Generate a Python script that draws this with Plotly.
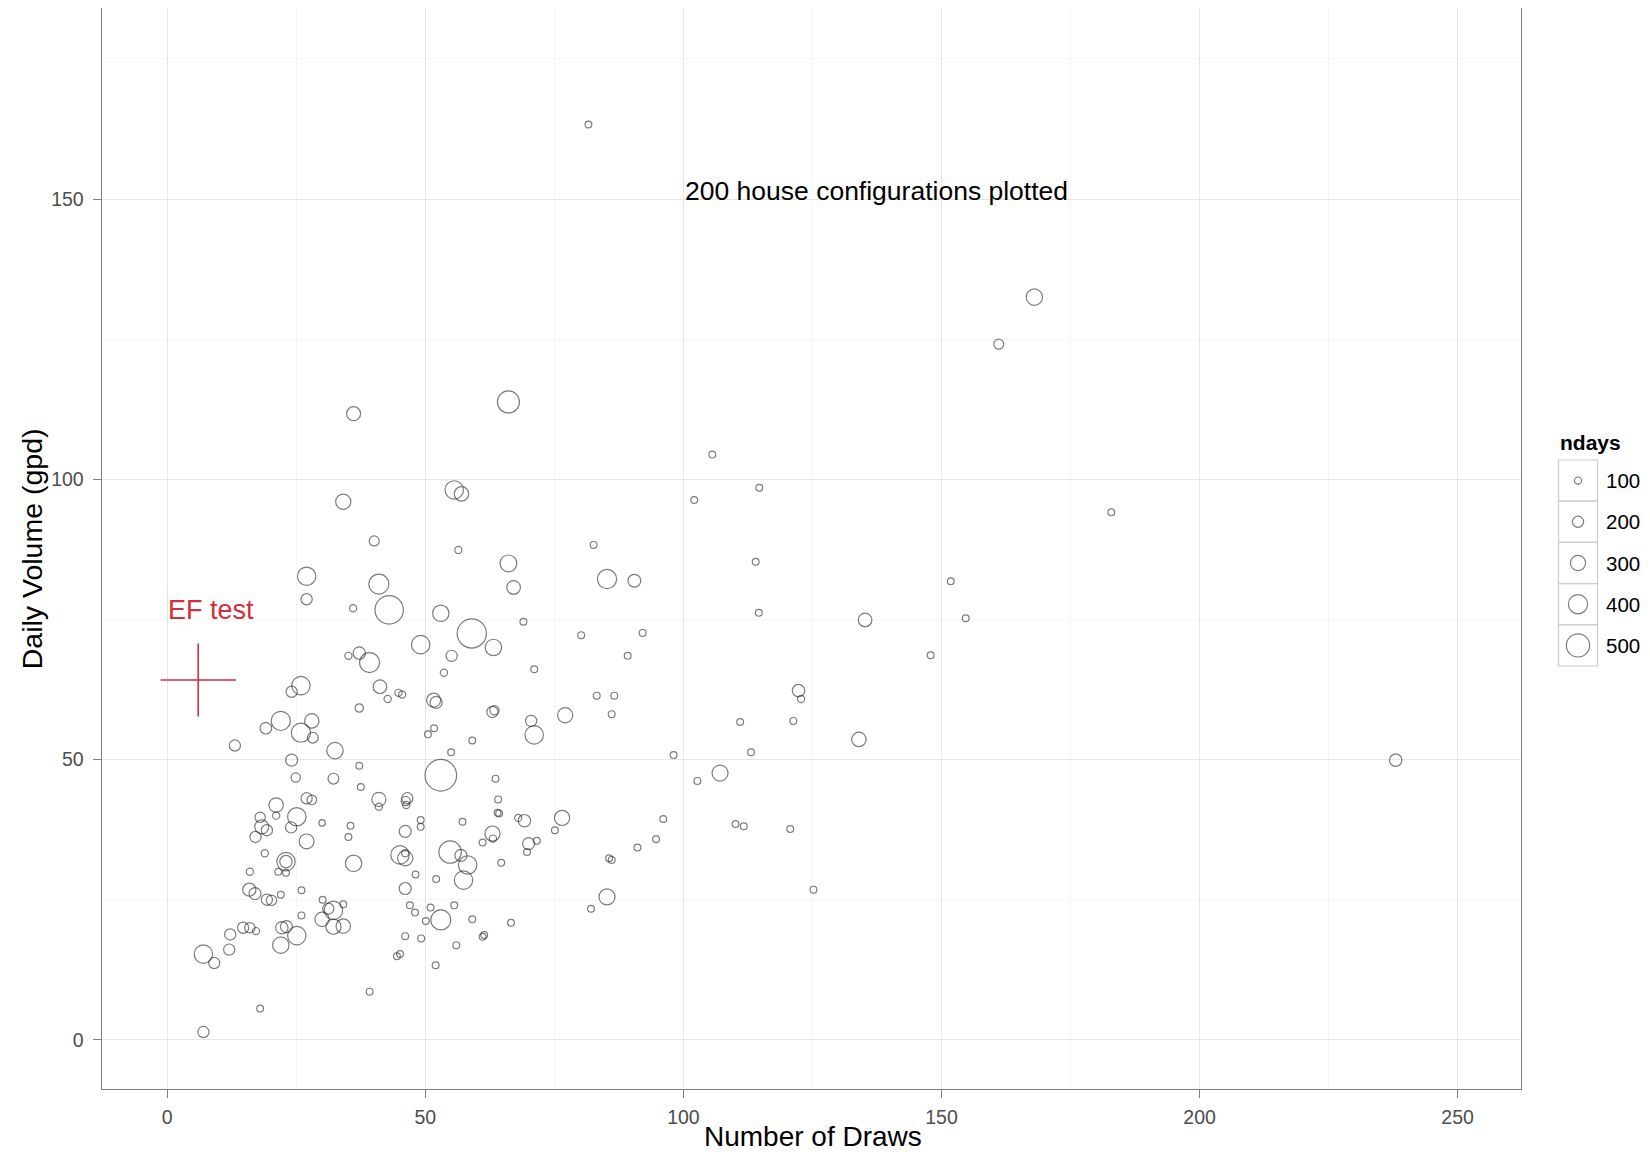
import plotly.graph_objects as go

# ---------------- data ----------------
draws = [
    36.1, 34.1, 40.1, 27.0, 27.0, 36.0, 41.0, 43.0, 53.0, 55.6, 57.0, 56.4, 49.1, 55.1, 53.6, 35.1, 37.2, 39.2,
    66.1, 105.6, 102.1, 114.7, 114.0, 66.1, 67.1, 82.6, 85.2, 90.5, 69.0, 59.0, 63.2, 80.2, 92.1, 114.6,
    25.9, 24.1, 41.2, 42.7, 44.8, 45.5, 51.6, 52.1, 37.2, 19.1, 22.0, 28.0, 25.9, 28.2, 13.1, 32.5, 50.5, 51.7,
    55.0, 24.1, 24.9, 32.2, 37.2, 37.5, 53.0, 21.1, 21.1, 27.0, 28.0, 30.0, 25.1, 24.0, 18.0, 18.3, 19.3, 17.1,
    27.0, 35.5, 35.1, 41.0, 41.0, 46.5, 46.2, 46.3, 49.1, 49.1, 46.1, 18.9, 23.0, 23.0, 21.5, 23.0, 36.1, 16.0,
    45.1, 46.1, 46.1, 48.1, 52.1, 54.8, 46.1, 15.9, 17.0, 19.3, 20.2, 22.0, 26.0, 30.1, 32.2, 31.2, 34.1, 30.0,
    32.2, 34.1, 26.0, 47.0, 48.0, 51.0, 50.1, 53.0, 55.6, 56.0, 46.1, 49.2, 44.5, 45.1, 52.0, 14.7, 16.0, 17.2,
    22.2, 23.1, 25.1, 22.0, 12.2, 12.0, 7.0, 9.1, 39.2, 18.0, 7.0,
    89.2, 71.1, 83.2, 86.6, 86.1, 63.0, 63.4, 70.5, 71.1, 77.1, 59.1, 98.1, 102.7, 107.1, 111.0, 113.1, 110.1,
    111.7, 63.6, 64.1, 64.3, 64.0, 57.2, 68.0, 69.2, 76.5, 75.1, 63.0, 63.1, 61.1, 70.0, 71.6, 69.7, 58.2, 57.4,
    64.7, 96.1, 94.7, 91.1, 85.6, 86.1, 85.2, 82.1, 59.1, 66.6, 61.1, 61.4, 56.9,
    81.6, 168.0, 161.1, 182.9, 151.8, 135.2, 154.7, 147.9, 122.3, 122.8, 121.3, 134.0, 120.7, 125.2, 238.0,
]
volume = [
    111.7, 96.0, 89.0, 82.7, 78.6, 77.0, 81.3, 76.7, 76.1, 98.1, 97.4, 87.4, 70.5, 68.5, 65.5, 68.5, 69.0, 67.3,
    113.8, 104.4, 96.3, 98.5, 85.3, 85.0, 80.7, 88.3, 82.2, 81.9, 74.6, 72.5, 70.0, 72.2, 72.6, 76.2,
    63.2, 62.1, 63.0, 60.8, 61.9, 61.6, 60.6, 60.2, 59.2, 55.6, 56.9, 56.9, 54.8, 53.9, 52.5, 51.6, 54.5, 55.6,
    51.3, 49.9, 46.8, 46.6, 48.9, 45.1, 47.2, 41.9, 40.0, 43.1, 42.8, 38.7, 39.8, 37.9, 39.7, 38.0, 37.4, 36.2,
    35.4, 38.2, 36.2, 42.9, 41.6, 43.1, 42.6, 41.9, 39.2, 38.0, 37.2, 33.3, 31.8, 31.8, 30.0, 29.8, 31.5, 30.0,
    33.0, 32.4, 33.3, 29.5, 28.7, 33.5, 27.0, 26.8, 26.1, 25.0, 24.9, 25.9, 26.7, 25.0, 23.1, 23.4, 24.2, 21.5,
    20.2, 20.3, 22.2, 24.0, 22.7, 23.6, 21.2, 21.4, 24.0, 16.9, 18.5, 18.1, 14.9, 15.3, 13.3, 20.0, 20.0, 19.4,
    20.0, 20.2, 18.6, 16.9, 18.8, 16.1, 15.3, 13.7, 8.6, 5.6, 1.4,
    68.5, 66.1, 61.4, 61.4, 58.1, 58.5, 58.8, 56.9, 54.4, 57.9, 53.4, 50.8, 46.2, 47.6, 56.7, 51.3, 38.5,
    38.1, 46.6, 42.9, 40.4, 40.5, 38.9, 39.6, 39.1, 39.6, 37.4, 36.8, 35.9, 35.2, 35.0, 35.5, 33.5, 31.2, 28.5,
    31.6, 39.4, 35.8, 34.3, 32.4, 32.1, 25.5, 23.4, 21.5, 20.9, 18.4, 18.7, 32.9,
    163.3, 132.5, 124.1, 94.1, 81.8, 74.9, 75.2, 68.6, 62.3, 60.8, 56.9, 53.6, 37.6, 26.8, 49.9,
]
ndays = [
    270, 300, 170, 380, 200, 100, 420, 630, 330, 380, 280, 100, 380, 200, 100, 100, 230, 420,
    470, 90, 90, 90, 90, 340, 260, 90, 400, 240, 90, 650, 330, 90, 90, 90,
    380, 200, 260, 100, 100, 100, 270, 220, 130, 210, 400, 280, 400, 190, 200, 330, 90, 90,
    90, 220, 150, 190, 90, 90, 710, 280, 100, 200, 160, 80, 380, 200, 180, 270, 200, 200,
    290, 90, 90, 270, 100, 200, 150, 100, 90, 90, 220, 100, 380, 230, 90, 90, 330, 100,
    380, 300, 100, 90, 90, 480, 220, 250, 220, 200, 180, 90, 90, 90, 380, 200, 90, 280,
    300, 280, 90, 90, 90, 90, 90, 420, 90, 90, 90, 90, 90, 90, 90, 200, 180, 100,
    230, 220, 380, 330, 200, 200, 380, 200, 90, 90, 200,
    90, 90, 90, 90, 90, 200, 150, 200, 380, 300, 90, 90, 90, 320, 90, 90, 90,
    90, 90, 90, 90, 90, 90, 100, 230, 300, 90, 300, 100, 90, 220, 90, 90, 380, 380,
    90, 90, 90, 90, 90, 90, 320, 90, 90, 90, 90, 90, 220,
    90, 330, 170, 90, 90, 260, 90, 90, 230, 100, 90, 280, 90, 90, 230,
]

legend_ndays = [100, 200, 300, 400, 500]
legend_title = "ndays"

ef_draws = [6.0]
ef_volume = [64.2]
ef_draws_err = [7.3]
ef_volume_err = [6.5]
ef_label = "EF test"

note_text = "200 house configurations plotted"
note_pos = (137.5, 151.5)
ef_label_pos = (8.4, 76.6)

x_title = "Number of Draws"
y_title = "Daily Volume (gpd)"


# ---------------- styling helpers ----------------
def diam(v):
    return 3.2 + 0.04 * v


# the page body has an 8px margin; lay out in screen pixels and convert
OFF = 8
W, H = 1650 - 2 * OFF, 1160 - 2 * OFF


def px(X):
    return (X - OFF) / W


def py(Y):
    return 1 - (Y - OFF) / H


FONT = "Liberation Sans, Arial, sans-serif"
CIRCLE = "rgba(35,35,35,0.85)"
RED = "#D0303A"

fig = go.Figure()

fig.add_trace(go.Scatter(
    x=draws, y=volume, mode="markers",
    marker=dict(symbol="circle-open", size=[diam(v) for v in ndays],
                color=CIRCLE, line=dict(width=1.2)),
    showlegend=False, hoverinfo="x+y",
))

# EF test cross
fig.add_trace(go.Scatter(
    x=ef_draws, y=ef_volume, mode="markers",
    marker=dict(size=1, color="rgba(0,0,0,0)"),
    error_x=dict(type="data", array=ef_draws_err, symmetric=True, width=0,
                 color=RED, thickness=1.6),
    error_y=dict(type="data", array=ef_volume_err, symmetric=True, width=0,
                 color=RED, thickness=1.6),
    showlegend=False, hoverinfo="skip",
))

# ----- size legend drawn on its own small axes (units = screen pixels) -----
key_top = 460.0
key_h = 41.2
key_x0, key_x1 = 1558.5, 1597.5
key_cx = (key_x0 + key_x1) / 2
centers = [key_top + key_h * (i + 0.5) for i in range(len(legend_ndays))]
fig.add_trace(go.Scatter(
    x=[key_cx] * len(legend_ndays), y=centers, mode="markers",
    marker=dict(symbol="circle-open", size=[diam(v) for v in legend_ndays],
                color=CIRCLE, line=dict(width=1.2)),
    xaxis="x2", yaxis="y2", showlegend=False, hoverinfo="skip",
))

shapes = []
for i in range(len(legend_ndays)):
    shapes.append(dict(type="rect", xref="x2", yref="y2",
                       x0=key_x0, x1=key_x1,
                       y0=key_top + key_h * i, y1=key_top + key_h * (i + 1),
                       line=dict(color="#CCCCCC", width=1.2), fillcolor="white",
                       layer="below"))

annotations = []
for c, v in zip(centers, legend_ndays):
    annotations.append(dict(x=1604, y=c, xref="x2", yref="y2", text=str(v),
                            showarrow=False, xanchor="left", yanchor="middle",
                            font=dict(family=FONT, size=20.5, color="black")))
annotations.append(dict(x=1558, y=442, xref="x2", yref="y2", text="<b>%s</b>" % legend_title,
                        showarrow=False, xanchor="left", yanchor="middle",
                        font=dict(family=FONT, size=21, color="black")))

annotations.append(dict(x=note_pos[0], y=note_pos[1], xref="x", yref="y", text=note_text,
                        showarrow=False, xanchor="center", yanchor="middle",
                        font=dict(family=FONT, size=26.5, color="black")))
annotations.append(dict(x=ef_label_pos[0], y=ef_label_pos[1], xref="x", yref="y", text=ef_label,
                        showarrow=False, xanchor="center", yanchor="middle",
                        font=dict(family=FONT, size=27, color=RED)))

# axis titles
annotations.append(dict(x=px(813.4), y=py(1136.0), xref="paper", yref="paper", text=x_title,
                        showarrow=False, xanchor="center", yanchor="middle",
                        font=dict(family=FONT, size=28, color="black")))
annotations.append(dict(x=px(31.6), y=py(548.7), xref="paper", yref="paper", text=y_title,
                        showarrow=False, xanchor="center", yanchor="middle", textangle=-90,
                        font=dict(family=FONT, size=28.5, color="black")))

axis_common = dict(
    showline=True, mirror=True, linecolor="#7F7F7F", linewidth=1.2,
    showgrid=True, gridcolor="#E6E6E6", gridwidth=1,
    zeroline=False, ticks="outside", ticklen=8, tickcolor="#7F7F7F", tickwidth=1.2,
    tickfont=dict(family=FONT, size=19.5, color="#4D4D4D"),
)

fig.update_layout(
    width=W, height=H,
    margin=dict(l=0, r=0, t=0, b=0),
    paper_bgcolor="white", plot_bgcolor="white",
    font=dict(family=FONT),
    xaxis=dict(domain=[px(101.7), px(1520.6)], range=[-12.7, 262.2],
               tickvals=[0, 50, 100, 150, 200, 250],
               minor=dict(tickvals=[25, 75, 125, 175, 225], showgrid=True,
                          gridcolor="#F6F6F6", ticks=""),
               ticklabelstandoff=2,
               **axis_common),
    yaxis=dict(domain=[py(1089.2), py(8.4)], range=[-8.8, 184.0],
               tickvals=[0, 50, 100, 150],
               minor=dict(tickvals=[25, 75, 125, 175], showgrid=True,
                          gridcolor="#F6F6F6", ticks=""),
               ticklabelstandoff=5,
               **axis_common),
    xaxis2=dict(domain=[px(1555), px(1642)], range=[1555, 1642], visible=False,
                anchor="y2", fixedrange=True),
    yaxis2=dict(domain=[py(670), py(430)], range=[670, 430], visible=False,
                anchor="x2", fixedrange=True),
    shapes=shapes,
    annotations=annotations,
    showlegend=False,
)

fig.write_html("out.html")
